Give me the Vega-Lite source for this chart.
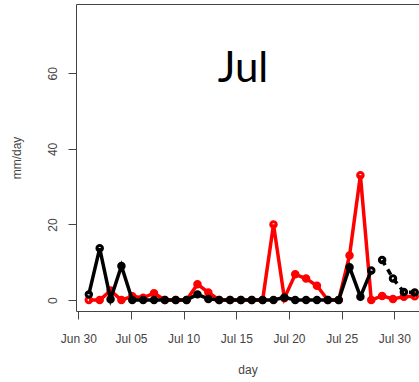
{
  "$schema": "https://vega.github.io/schema/vega-lite/v6.json",
  "width": 343,
  "height": 307,
  "autosize": "none",
  "padding": {"left": 76, "top": 4, "right": 0, "bottom": 71},
  "background": "white",
  "title": {
    "text": "Jul",
    "frame": "group",
    "anchor": "middle",
    "orient": "top",
    "offset": -120,
    "baseline": "alphabetic",
    "dx": -4.5,
    "font": "Lato",
    "fontSize": 42,
    "fontWeight": "normal",
    "color": "#000000"
  },
  "view": {"stroke": "#444", "strokeWidth": 1, "strokeDash": [343, 307, 650, 0]},
  "config": {
    "axis": {
      "labelFont": "Liberation Sans",
      "labelFontSize": 12,
      "labelColor": "#444",
      "titleFont": "Liberation Sans",
      "titleFontSize": 12,
      "titleFontWeight": "normal",
      "titleColor": "#444",
      "tickColor": "#444",
      "tickSize": 8,
      "domain": false,
      "grid": false
    }
  },
  "data": {
    "values": [
      {"day": "2014-07-01T00:00", "series": "sim", "mm": 1.5},
      {"day": "2014-07-02T00:45", "series": "sim", "mm": 13.7},
      {"day": "2014-07-03T01:30", "series": "sim", "mm": 0.2},
      {"day": "2014-07-04T02:15", "series": "sim", "mm": 9.0},
      {"day": "2014-07-05T03:00", "series": "sim", "mm": 0},
      {"day": "2014-07-06T03:45", "series": "sim", "mm": 0},
      {"day": "2014-07-07T04:30", "series": "sim", "mm": 0},
      {"day": "2014-07-08T05:15", "series": "sim", "mm": 0},
      {"day": "2014-07-09T06:00", "series": "sim", "mm": 0},
      {"day": "2014-07-10T06:45", "series": "sim", "mm": 0},
      {"day": "2014-07-11T07:30", "series": "sim", "mm": 1.5},
      {"day": "2014-07-12T08:15", "series": "sim", "mm": 0.3},
      {"day": "2014-07-13T09:00", "series": "sim", "mm": 0},
      {"day": "2014-07-14T09:45", "series": "sim", "mm": 0},
      {"day": "2014-07-15T10:30", "series": "sim", "mm": 0},
      {"day": "2014-07-16T11:15", "series": "sim", "mm": 0},
      {"day": "2014-07-17T12:00", "series": "sim", "mm": 0},
      {"day": "2014-07-18T12:45", "series": "sim", "mm": 0},
      {"day": "2014-07-19T13:30", "series": "sim", "mm": 0.7},
      {"day": "2014-07-20T14:15", "series": "sim", "mm": 0},
      {"day": "2014-07-21T15:00", "series": "sim", "mm": 0},
      {"day": "2014-07-22T15:45", "series": "sim", "mm": 0},
      {"day": "2014-07-23T16:30", "series": "sim", "mm": 0},
      {"day": "2014-07-24T17:15", "series": "sim", "mm": 0},
      {"day": "2014-07-25T18:00", "series": "sim", "mm": 8.7},
      {"day": "2014-07-26T18:45", "series": "sim", "mm": 0.9},
      {"day": "2014-07-27T19:30", "series": "sim", "mm": 7.8},
      {"day": "2014-07-28T20:15", "series": "sim", "mm": 10.6},
      {"day": "2014-07-29T21:00", "series": "sim", "mm": 5.7},
      {"day": "2014-07-30T21:45", "series": "sim", "mm": 2.1},
      {"day": "2014-07-31T22:30", "series": "sim", "mm": 2.0},
      {"day": "2014-07-01T00:00", "series": "obs", "mm": 0},
      {"day": "2014-07-02T00:45", "series": "obs", "mm": 0},
      {"day": "2014-07-03T01:30", "series": "obs", "mm": 2.5},
      {"day": "2014-07-04T02:15", "series": "obs", "mm": 0},
      {"day": "2014-07-05T03:00", "series": "obs", "mm": 1.0},
      {"day": "2014-07-06T03:45", "series": "obs", "mm": 0.6},
      {"day": "2014-07-07T04:30", "series": "obs", "mm": 1.8},
      {"day": "2014-07-08T05:15", "series": "obs", "mm": 0},
      {"day": "2014-07-09T06:00", "series": "obs", "mm": 0},
      {"day": "2014-07-10T06:45", "series": "obs", "mm": 0},
      {"day": "2014-07-11T07:30", "series": "obs", "mm": 4.2},
      {"day": "2014-07-12T08:15", "series": "obs", "mm": 2.0},
      {"day": "2014-07-13T09:00", "series": "obs", "mm": 0},
      {"day": "2014-07-14T09:45", "series": "obs", "mm": 0},
      {"day": "2014-07-15T10:30", "series": "obs", "mm": 0},
      {"day": "2014-07-16T11:15", "series": "obs", "mm": 0},
      {"day": "2014-07-17T12:00", "series": "obs", "mm": 0},
      {"day": "2014-07-18T12:45", "series": "obs", "mm": 20.0},
      {"day": "2014-07-19T13:30", "series": "obs", "mm": 0.5},
      {"day": "2014-07-20T14:15", "series": "obs", "mm": 6.8},
      {"day": "2014-07-21T15:00", "series": "obs", "mm": 5.7},
      {"day": "2014-07-22T15:45", "series": "obs", "mm": 3.8},
      {"day": "2014-07-23T16:30", "series": "obs", "mm": 0},
      {"day": "2014-07-24T17:15", "series": "obs", "mm": 0},
      {"day": "2014-07-25T18:00", "series": "obs", "mm": 11.8},
      {"day": "2014-07-26T18:45", "series": "obs", "mm": 33.0},
      {"day": "2014-07-27T19:30", "series": "obs", "mm": 0},
      {"day": "2014-07-28T20:15", "series": "obs", "mm": 1.1},
      {"day": "2014-07-29T21:00", "series": "obs", "mm": 0.3},
      {"day": "2014-07-30T21:45", "series": "obs", "mm": 0.9},
      {"day": "2014-07-31T22:30", "series": "obs", "mm": 1.0}
    ]
  },
  "encoding": {
    "x": {
      "field": "day",
      "type": "temporal",
      "scale": {
        "domain": [
          {"year": 2014, "month": 6, "date": 29, "hours": 18, "minutes": 45},
          {"year": 2014, "month": 8, "date": 1, "hours": 8, "minutes": 15}
        ]
      },
      "axis": {
        "values": [
          {"year": 2014, "month": 6, "date": 30},
          {"year": 2014, "month": 7, "date": 5},
          {"year": 2014, "month": 7, "date": 10},
          {"year": 2014, "month": 7, "date": 15},
          {"year": 2014, "month": 7, "date": 20},
          {"year": 2014, "month": 7, "date": 25},
          {"year": 2014, "month": 7, "date": 30}
        ],
        "format": "%b %d",
        "labelPadding": 14,
        "labelFlush": false,
        "labelOverlap": false,
        "title": "day",
        "titleBaseline": "alphabetic",
        "titleY": 62
      }
    },
    "y": {
      "field": "mm",
      "type": "quantitative",
      "scale": {"domain": [-2.9, 78.35], "nice": false, "zero": false},
      "axis": {
        "values": [0, 20, 40, 60],
        "labelAngle": -90,
        "labelAlign": "center",
        "labelBaseline": "alphabetic",
        "labelPadding": 12,
        "title": "mm/day",
        "titleBaseline": "alphabetic",
        "titleX": -56
      }
    }
  },
  "layer": [
    {
      "transform": [{"filter": {"field": "series", "equal": "obs"}}],
      "mark": {"type": "line", "color": "#ff0000", "strokeWidth": 3.5}
    },
    {
      "transform": [{"filter": {"field": "series", "equal": "obs"}}],
      "mark": {"type": "point", "shape": "circle", "filled": false, "color": "#ff0000", "size": 30, "strokeWidth": 3, "opacity": 1}
    },
    {
      "transform": [{"filter": {"and": [
        {"field": "series", "equal": "sim"},
        {"field": "day", "lte": {"year": 2014, "month": 7, "date": 27, "hours": 19, "minutes": 30}}
      ]}}],
      "mark": {"type": "line", "color": "#000000", "strokeWidth": 3.5}
    },
    {
      "transform": [{"filter": {"and": [
        {"field": "series", "equal": "sim"},
        {"field": "day", "gte": {"year": 2014, "month": 7, "date": 28, "hours": 20, "minutes": 15}}
      ]}}],
      "mark": {"type": "line", "color": "#000000", "strokeWidth": 3.5, "strokeDash": [6, 5]}
    },
    {
      "transform": [{"filter": {"field": "series", "equal": "sim"}}],
      "mark": {"type": "point", "shape": "circle", "filled": false, "color": "#000000", "size": 30, "strokeWidth": 3, "opacity": 1}
    }
  ]
}
